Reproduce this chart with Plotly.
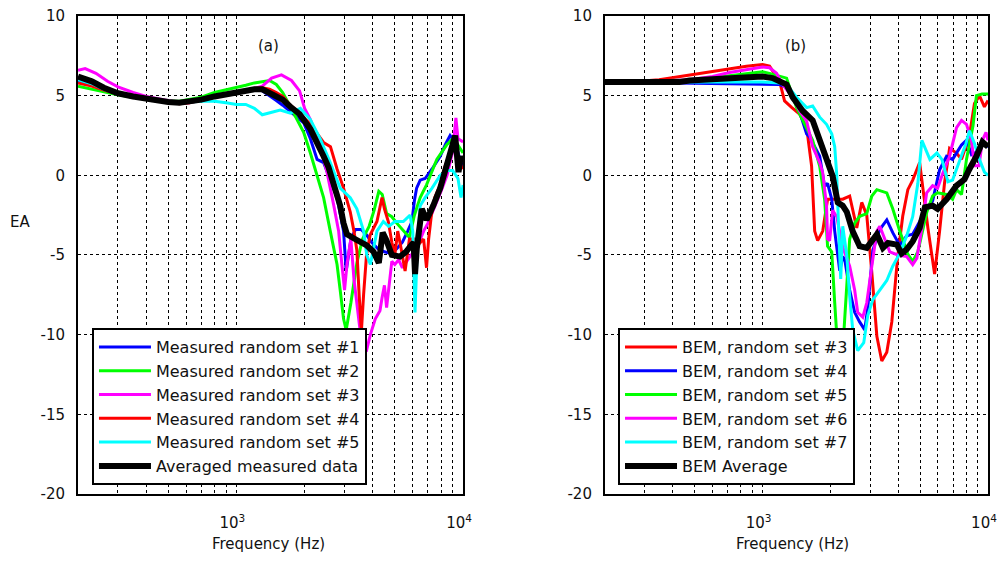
import plotly.graph_objects as go

# ---------------- Panel (a): measured data ----------------
freq_m1 = [200,230,260,300,350,400,450,500,560,620,700,800,900,1000,1100,1200,1300,1400,1500,1600,
           1730,1850,1980,2120,2270,2425,2600,2780,2970,3050,3200,3350,3550,3760,3950,4200,4500,4800,
           5100,5400,5700,5950,6100,6240,6470,6800,7300,7930,8400,8770,9230,9600,10000]
ea_m1 = [5.9,5.7,5.4,5.1,4.9,4.8,4.7,4.6,4.55,4.6,4.75,4.95,5.1,5.25,5.35,5.4,5.3,5.0,4.7,4.4,
         4.0,3.7,3.3,2.3,1.0,0.8,-0.3,-1.4,-3.5,-6.0,-4.0,-3.4,-3.4,-3.75,-4.2,-4.6,-4.8,-4.9,
         -4.6,-4.2,-3.5,-2.9,-1.6,-0.8,-0.3,-0.2,0.4,1.2,2.0,2.5,2.1,1.2,0.6]

freq_m2 = [200,230,260,300,350,400,450,500,560,620,700,800,900,1000,1100,1200,1300,1400,1500,1600,
           1730,1850,1980,2120,2270,2425,2595,2780,2870,2970,3050,3200,3400,3600,3850,4050,4250,4400,
           4600,4850,5100,5450,5800,6100,6470,6900,7300,7660,8100,8460,9000,9500,10000]
ea_m2 = [5.6,5.4,5.25,5.05,4.9,4.8,4.7,4.65,4.65,4.75,4.9,5.2,5.35,5.5,5.65,5.8,5.9,5.95,5.7,5.2,
         4.3,3.5,2.7,1.4,0.0,-1.4,-3.5,-5.6,-7.2,-9.0,-9.7,-8.0,-5.5,-4.0,-3.2,-2.2,-1.0,-1.2,
         -2.4,-2.6,-3.0,-3.5,-3.9,-2.5,-1.4,-0.6,0.2,1.0,1.5,1.9,2.3,1.9,1.4]

freq_m3 = [200,215,240,270,300,350,400,450,500,560,620,700,800,900,1000,1100,1200,1300,1430,1580,
           1750,1900,2000,2120,2340,2510,2690,2825,2920,3000,3080,3200,3300,3400,3500,3600,3750,3900,
           4100,4300,4390,4500,4600,4750,4850,5000,5200,5400,5600,5900,6200,6500,6700,7000,7500,8000,
           8500,9000,9300,9500,10000]
ea_m3 = [6.6,6.7,6.4,5.9,5.55,5.2,4.95,4.8,4.65,4.55,4.55,4.75,4.95,5.1,5.15,5.3,5.45,5.6,6.1,6.3,
         5.95,5.3,4.2,3.5,1.9,0.2,-1.9,-3.5,-5.6,-7.2,-5.5,-4.0,-6.5,-8.0,-9.5,-11,-11,-10,
         -9,-8.5,-7.7,-6.9,-8.3,-6.3,-5.4,-5.6,-5.3,-5.8,-5.5,-5.0,-4.7,-4.0,-3.5,-3.0,-2.0,-1.0,
         0.0,1.5,3.6,2.3,2.1]

freq_m4 = [200,230,260,300,350,400,450,500,560,620,700,800,900,1000,1100,1200,1300,1400,1500,1600,
           1730,1900,2120,2300,2425,2600,2780,2970,3180,3300,3400,3480,3560,3640,3750,3890,4170,4390,
           4500,4680,4850,5000,5150,5300,5550,5800,6100,6400,6700,6900,7050,7250,7500,7930,8300,8800,
           9230,9600,10000]
ea_m4 = [5.8,5.6,5.35,5.1,4.95,4.8,4.7,4.6,4.5,4.55,4.7,4.9,5.05,5.2,5.35,5.45,5.5,5.4,5.2,4.95,
         4.4,3.9,3.2,2.5,2.06,1.8,0.4,-0.8,-2.3,-3.5,-4.7,-7.5,-9.8,-7.5,-5.0,-3.75,-2.9,-1.4,
         -2.1,-2.9,-4.2,-5.0,-3.5,-4.4,-6.0,-4.0,-4.0,-4.3,-4.0,-5.8,-4.0,-2.5,-1.4,-0.6,0.5,1.5,
         2.0,0.8,0.4]

freq_m5 = [200,230,260,300,350,400,450,500,560,620,700,800,900,1000,1100,1200,1300,1420,1560,1730,
           1915,2120,2340,2595,2870,3180,3400,3640,3760,3900,4170,4450,4700,5000,5450,5840,6000,6140,
           6300,6470,6800,7300,7930,8500,9000,9500,9800,10000]
ea_m5 = [6.0,5.75,5.4,5.1,4.95,4.8,4.7,4.65,4.6,4.6,4.65,4.65,4.55,4.45,4.45,4.2,3.8,3.95,4.1,3.9,
         4.2,3.5,2.3,0.8,-0.8,-1.4,-2.1,-3.5,-5.0,-5.6,-3.5,-2.9,-3.2,-2.9,-2.9,-2.5,-3.5,-8.6,
         -4.0,-1.9,-1.4,-0.8,0.0,0.3,0.3,-0.2,-1.4,-0.6]

freq_mavg = [200,230,260,300,350,400,450,500,560,620,700,800,900,1000,1100,1200,1300,1400,1500,1600,
             1730,1900,2120,2270,2425,2550,2690,2870,2970,3075,3290,3500,3760,4030,4250,4420,4600,4850,
             5270,5600,5900,6050,6140,6250,6580,6900,7390,7930,8620,9230,9550,9800,10000]
ea_mavg = [6.2,5.9,5.5,5.15,4.95,4.8,4.7,4.6,4.55,4.6,4.75,4.95,5.1,5.25,5.35,5.4,5.4,5.2,4.95,4.75,
           4.3,3.85,2.9,2.1,1.2,0.5,-0.5,-1.9,-3.0,-3.7,-3.95,-4.2,-4.4,-4.8,-5.5,-3.6,-4.1,-5.0,
           -5.1,-4.8,-4.4,-4.2,-6.2,-4.6,-2.1,-2.8,-1.9,-0.8,1.0,2.5,0.2,1.2,0.8]

# ---------------- Panel (b): BEM data ----------------
freq_b3 = [200,284,348,474,600,713,848,1000,1074,1190,1252,1345,1460,1569,1650,1703,1756,1849,1943,2090,
           2268,2435,2617,2754,2899,3053,3214,3380,3557,3744,3858,3978,4185,4410,4634,4976,5412,5681,
           5797,6100,6418,6754,7252,7630,8277,8708,9163,9640,10000]
ea_b3 = [5.85,5.9,6.0,6.3,6.5,6.7,6.85,6.95,6.85,5.9,4.67,4.26,3.85,3.0,0.6,-3.5,-4.1,-3.5,-1.5,-1.5,
         -1.5,-1.3,-3.3,-1.7,-2.5,-6.1,-10.1,-11.65,-11.1,-9.2,-7.2,-5.07,-2.57,-0.9,-0.3,0.8,-3.3,-5.6,
         -6.2,-3.5,-0.45,1.7,1.4,1.0,2.5,4.5,5.0,4.3,4.7]

freq_b4 = [200,428,525,1000,1190,1278,1388,1490,1569,1618,1793,1885,1943,2027,2090,2200,2268,2316,2435,
           2562,2695,2840,2929,3085,3312,3557,3780,4060,4359,4634,4976,5344,5681,6100,6550,6963,7630,
           8028,8447,9028,9447,10000]
ea_b4 = [5.85,5.8,5.75,5.75,5.7,5.5,4.7,3.6,2.6,2.4,1.2,-0.7,-0.5,-1.5,-3.5,-6.0,-5.1,-5.3,-7.2,
         -8.6,-9.2,-9.7,-8.3,-4.7,-3.4,-2.8,-3.6,-4.4,-3.8,-3.7,-2.9,-2.1,-1.6,0.35,1.2,1.0,1.9,
         2.2,1.3,1.5,1.9,1.8]

freq_b5 = [200,315,474,600,713,848,1000,1074,1190,1278,1416,1505,1668,1793,1885,1943,2027,2090,2155,
           2245,2338,2435,2562,2695,2899,3053,3214,3380,3557,3780,4060,4410,4634,4885,5356,5681,5977,
           6550,6963,7252,7630,8028,8577,8887,9404,10000]
ea_b5 = [5.85,5.9,6.0,6.1,6.25,6.4,6.5,6.4,6.25,6.1,4.24,3.5,2.2,0.57,-1.5,-4.45,-4.8,-8.0,-11,
         -12,-8,-4.0,-3.0,-2.57,-2.4,-1.3,-0.9,-1.0,-1.1,-2.1,-3.5,-4.95,-5.4,-4.8,-2.3,-1.3,-1.1,
         -1.2,-1.5,-0.9,-1.2,1.0,3.1,5.0,5.1,5.1]

freq_b6 = [200,315,474,600,713,848,1000,1074,1154,1227,1360,1460,1569,1668,1793,1849,1922,1943,1984,
           2046,2134,2268,2435,2562,2643,2783,2899,3053,3214,3312,3485,3667,3978,4359,4634,4835,5089,
           5344,5681,5977,6310,6754,7252,7630,8028,8447,8708,9120,9447,9797,10000]
ea_b6 = [5.85,5.9,6.0,6.2,6.45,6.65,6.8,6.75,6.4,5.7,4.9,4.05,3.4,1.8,0.8,0.15,-1.9,-4.0,-4.1,
         -2.2,-2.6,-4.5,-5.7,-7.2,-8.6,-8.9,-8.0,-5.7,-3.5,-3.2,-4.0,-4.8,-5.0,-5.1,-5.6,-5.2,-3.3,
         -1.1,-0.65,-0.8,0.15,1.2,3.0,3.45,3.2,2.2,0.6,0.6,2.2,2.7,2.2]

freq_b7 = [200,525,1000,1190,1278,1416,1569,1668,1793,1922,2027,2090,2134,2177,2222,2268,2362,2435,2512,
           2643,2811,2929,3085,3312,3557,3780,4060,4359,4634,4885,5089,5301,5524,5935,6244,6640,6963,
           7477,7983,8277,8708,9163,9640,10000]
ea_b7 = [5.85,5.85,5.85,5.8,5.7,4.9,4.25,4.35,3.65,3.2,2.6,1.8,0.0,-3.5,-6.5,-3.2,-5.0,-7.6,-9.7,
         -11,-10.5,-8.8,-7.8,-7.2,-6.6,-5.7,-4.9,-3.8,-2.6,-0.5,2.2,1.6,1.0,1.4,1.0,-0.4,-0.3,
         0.9,2.0,2.8,2.0,1.0,0.2,0.0]

freq_bavg = [200,428,474,600,713,848,1000,1108,1190,1278,1360,1505,1668,1793,1922,2046,2155,2268,2364,
             2509,2695,2899,3214,3420,3600,3940,4140,4359,4634,4976,5250,5681,5977,6550,7250,7867,8277,
             8887,9447,10000]
ea_bavg = [5.85,5.85,5.95,6.05,6.15,6.2,6.2,6.1,5.9,5.7,4.9,4.05,3.45,2.2,1.2,-0.05,-1.7,-1.9,-2.3,
           -3.5,-4.45,-4.55,-3.7,-4.55,-4.25,-4.35,-4.9,-4.65,-4.15,-3.3,-2.0,-1.9,-2.1,-1.5,-0.65,-0.25,0.4,
           1.2,2.1,1.8]

# ---------------- tick definitions ----------------
x_major_vals = [1000, 10000]
x_major_text = ["10<sup>3</sup>", "10<sup>4</sup>"]
x_minor_vals = [300,400,500,600,700,800,900,2000,3000,4000,5000,6000,7000,8000,9000]
y_tick_vals = [-20, -15, -10, -5, 0, 5, 10]
y_tick_text = ["-20", "-15", "-10", "-5", "0", "5", "10"]

FONT = "DejaVu Sans"

left_series = [
    ("Measured random set #1", freq_m1, ea_m1, "#0000FF", 3),
    ("Measured random set #2", freq_m2, ea_m2, "#00FF00", 3),
    ("Measured random set #3", freq_m3, ea_m3, "#FF00FF", 3),
    ("Measured random set #4", freq_m4, ea_m4, "#FF0000", 3),
    ("Measured random set #5", freq_m5, ea_m5, "#00FFFF", 3),
    ("Averaged measured data", freq_mavg, ea_mavg, "#000000", 6),
]
right_series = [
    ("BEM, random set #3", freq_b3, ea_b3, "#FF0000", 3),
    ("BEM, random set #4", freq_b4, ea_b4, "#0000FF", 3),
    ("BEM, random set #5", freq_b5, ea_b5, "#00FF00", 3),
    ("BEM, random set #6", freq_b6, ea_b6, "#FF00FF", 3),
    ("BEM, random set #7", freq_b7, ea_b7, "#00FFFF", 3),
    ("BEM Average", freq_bavg, ea_bavg, "#000000", 6),
]

fig = go.Figure()
for name, fx, fy, col, w in left_series:
    fig.add_trace(go.Scatter(x=fx, y=fy, mode="lines", name=name,
                             line=dict(color=col, width=w),
                             xaxis="x", yaxis="y", legend="legend"))
for name, fx, fy, col, w in right_series:
    fig.add_trace(go.Scatter(x=fx, y=fy, mode="lines", name=name,
                             line=dict(color=col, width=w),
                             xaxis="x2", yaxis="y2", legend="legend2"))

def xax(domain, anchor):
    return dict(type="log", range=[2.30103, 4.0], domain=domain, anchor=anchor,
                tickmode="array", tickvals=x_major_vals, ticktext=x_major_text,
                showgrid=True, gridcolor="black", gridwidth=1, griddash="dot",
                minor=dict(tickmode="array", tickvals=x_minor_vals, showgrid=True,
                           gridcolor="black", gridwidth=1, griddash="dot", ticks=""),
                showline=True, mirror=True, linecolor="black", linewidth=2,
                ticks="", ticklabelstandoff=14, ticklabelshift=-4, ticklabeloverflow="allow",
                zeroline=False, automargin=False,
                tickfont=dict(family=FONT, size=15, color="#111"))

def yax(domain, anchor):
    return dict(range=[-20, 10], domain=domain, anchor=anchor,
                tickmode="array", tickvals=y_tick_vals, ticktext=y_tick_text,
                showgrid=True, gridcolor="black", gridwidth=1, griddash="dot",
                showline=True, mirror=True, linecolor="black", linewidth=2,
                ticks="", ticklabelstandoff=8, ticklabeloverflow="allow",
                zeroline=False, automargin=False,
                tickfont=dict(family=FONT, size=15, color="#111"))

legend_common = dict(bgcolor="white", bordercolor="black", borderwidth=2,
                     font=dict(family=FONT, size=16, color="#111"),
                     xanchor="left", yanchor="top", itemwidth=52,
                     tracegroupgap=0)

def label(text, x, y, size):
    return dict(text=text, x=x, y=y, xref="paper", yref="paper", showarrow=False,
                xanchor="center", yanchor="middle",
                font=dict(family=FONT, size=size, color="#111"))

# The page body carries an 8 px margin, so the figure is sized to fit inside it.
fig.update_layout(
    width=989, height=547,
    margin=dict(l=0, r=0, t=0, b=0, autoexpand=False),
    paper_bgcolor="white", plot_bgcolor="white",
    xaxis=xax([0.0708, 0.4601], "y"),
    yaxis=yax([0.1115, 0.9854], "x"),
    xaxis2=xax([0.6036, 0.9909], "y2"),
    yaxis2=yax([0.1115, 0.9854], "x2"),
    legend=dict(x=0.0849, y=0.415, **legend_common),
    legend2=dict(x=0.6168, y=0.415, **legend_common),
    showlegend=True,
    annotations=[
        label("EA", 0.0121, 0.6088, 15),
        label("(a)", 0.2629, 0.9305, 15),
        label("(b)", 0.7958, 0.9305, 15),
        label("Frequency (Hz)", 0.2629, 0.0205, 15),
        label("Frequency (Hz)", 0.7937, 0.0205, 15),
    ],
)

fig.write_html("out.html")
